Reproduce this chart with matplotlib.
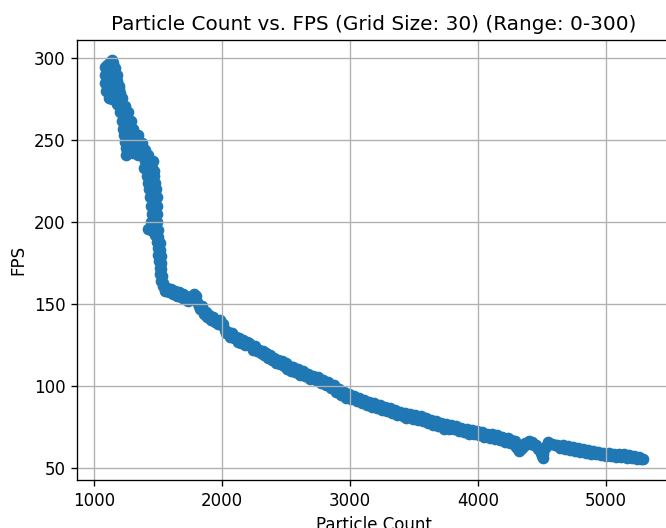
from matplotlib import pyplot as plt

graphName = "Particle Count vs. FPS (Grid Size: 30) (Range: 0-300)"

# readings taken along the band, from the top-left cluster down to the tail
particleCount = [
    # top cluster
    1120, 1135, 1150,
    1085, 1100, 1115, 1130, 1150, 1160,
    1084, 1100, 1115, 1130, 1145, 1160, 1175,
    1085, 1100, 1120, 1140, 1160, 1180, 1190,
    1092, 1110, 1130, 1150, 1170, 1190, 1205,
    1112, 1140, 1165, 1190, 1215,
    1175, 1195, 1215, 1240,
    1200, 1220, 1245, 1266,
    1215, 1235, 1260, 1285,
    1228, 1250, 1275, 1300,
    1235, 1260, 1290, 1320, 1340,
    1242, 1270, 1300, 1330, 1355, 1370,
    1250, 1280, 1320, 1350, 1380, 1400,
    1245, 1260, 1300, 1340, 1370, 1400, 1420,
    1395, 1420, 1445, 1462,
    # steep drop
    1390, 1420, 1450, 1470,
    1410, 1440, 1468,
    1420, 1450, 1478,
    1430, 1458, 1485,
    1435, 1462, 1488,
    1440, 1465, 1490,
    1455, 1475, 1490,
    1440, 1465, 1490,
    1420, 1440, 1478, 1495,
    1475, 1500,
    1490, 1510,
    1498, 1512,
    1502, 1518,
    1508, 1522,
    1510, 1525,
    1515, 1530,
    1518, 1535,
    # knee
    1540, 1555, 1570, 1585, 1600, 1615, 1630, 1645, 1660, 1675,
    1690, 1705, 1720, 1735, 1750, 1765, 1780, 1795, 1800, 1815,
    1830, 1840, 1855, 1870, 1880, 1895, 1910, 1925, 1940, 1955,
    1970, 1985, 2000, 2010, 2020, 2030, 2045, 2060, 2075, 2090,
    2105, 2120, 2135, 2150, 2165, 2180, 2195, 2210, 2225, 2240,
    2255, 2270, 2285, 2300, 2315, 2330, 2345, 2360, 2375, 2390,
    2405, 2420, 2435, 2450, 2465, 2480, 2495, 2510, 2525, 2540,
    # long decline
    2555, 2570, 2590, 2610, 2630, 2650, 2670, 2690, 2710, 2730,
    2750, 2770, 2790, 2810, 2830, 2850, 2870, 2890, 2910, 2930,
    2950, 2970, 2990, 3010, 3030, 3050, 3070, 3090, 3110, 3130,
    3150, 3170, 3190, 3210, 3230, 3250, 3270, 3290, 3310, 3330,
    3350, 3370, 3390, 3410, 3430, 3440, 3450, 3470, 3490, 3510,
    3530, 3550, 3570, 3590, 3610, 3630, 3650, 3670, 3690, 3710,
    3730, 3750, 3770, 3790, 3810, 3830, 3850, 3870, 3890, 3910,
    3930, 3950, 3970, 3990, 4010, 4030, 4050, 4070, 4090, 4110,
    4130, 4150, 4170, 4190, 4210, 4230, 4250,
    # tail with the two dips
    4260, 4275, 4290, 4300, 4310, 4320, 4335, 4350, 4365, 4380,
    4395, 4410, 4425, 4440, 4455, 4470, 4485, 4495, 4500, 4505,
    4510, 4520, 4535, 4550, 4565, 4580, 4600, 4620, 4640, 4660,
    4680, 4700, 4720, 4740, 4760, 4780, 4800, 4820, 4840, 4860,
    4880, 4900, 4920, 4940, 4960, 4980, 5000, 5020, 5040, 5060,
    5080, 5100, 5120, 5140, 5160, 5180, 5200, 5220, 5240, 5260,
    5275, 5290,
]

fps = [
    # top cluster
    298, 299, 297,
    295, 296, 294, 295, 293, 294,
    290, 291, 289, 290, 288, 289, 290,
    285, 286, 284, 285, 284, 286, 283,
    280, 281, 279, 280, 279, 281, 279,
    276, 275, 276, 274, 276,
    272, 271, 272, 271,
    267, 268, 266, 267,
    262, 263, 261, 262,
    257, 258, 256, 257,
    253, 252, 253, 252, 253,
    249, 248, 249, 248, 249, 248,
    245, 246, 245, 244, 245, 244,
    241, 242, 242, 241, 241, 240, 241,
    237, 238, 236, 237,
    # steep drop
    233, 232, 233, 231,
    228, 227, 228,
    224, 223, 224,
    220, 219, 220,
    215, 214, 215,
    210, 209, 210,
    205, 204, 205,
    200, 201, 200,
    196, 195, 197, 195,
    192, 191,
    188, 187,
    184, 183,
    180, 179,
    176, 175,
    172, 171,
    168, 167,
    164, 163,
    # knee
    161, 158, 160, 157, 159, 156, 158, 155, 157, 154,
    156, 153, 155, 152, 154, 153, 156, 155, 151, 149,
    147, 149, 144, 145, 142, 143, 140, 142, 139, 140,
    138, 140, 137, 138, 134, 132, 133, 130, 132, 129,
    130, 127, 129, 126, 128, 125, 127, 126, 124, 122,
    124, 121, 122, 120, 121, 119, 120, 117, 119, 116,
    117, 114, 116, 113, 115, 112, 114, 110, 112, 109,
    # long decline
    111.2, 108.3, 110.2, 106.8, 108.7, 105.8, 107.2, 104.3, 106.2, 103.3,
    105.2, 101.8, 103.2, 100.3, 102.2, 98.8, 100.2, 96.3, 97.7, 94.3,
    96.2, 92.8, 94.7, 91.8, 93.7, 90.8, 92.2, 89.3, 91.2, 88.3,
    90.2, 87.3, 89.2, 86.3, 88.2, 85.3, 87.2, 84.3, 86.2, 83.3,
    85.2, 82.3, 84.2, 81.3, 83.2, 80.0, 81.0, 82.7, 79.8, 82.2,
    79.3, 81.2, 78.3, 80.2, 77.3, 79.2, 76.3, 78.2, 75.3, 77.2,
    73.8, 76.7, 73.8, 75.7, 73.3, 75.2, 72.3, 74.2, 71.8, 73.7,
    70.8, 73.2, 70.3, 72.2, 69.8, 71.7, 68.8, 70.7, 67.8, 70.2,
    67.3, 69.7, 66.8, 68.7, 65.8, 68.2, 64.8,
    # tail with the two dips
    67, 65.5, 66, 62.5, 61.5, 60, 61.5, 62.5, 65, 64.5,
    66.5, 64.5, 65.5, 63.5, 63.5, 61.5, 61, 59, 57, 56,
    58, 62, 64, 65.5, 64.5, 64.5, 63.5, 64, 62, 63.5,
    61.5, 63, 61, 62.3, 60.3, 61.8, 59.8, 61.2, 59.2, 60.5,
    58.5, 60, 58, 59.5, 57.5, 59, 57, 58.8, 56.8, 58.5,
    56.5, 58.2, 56.2, 58, 56, 57.5, 55.8, 57.2, 55.5, 56.5,
    55, 55.5,
]


def plot(particleCount, fps):
    fig = plt.figure(figsize=(666 / 120, 528 / 120), dpi=120)
    # the reference is a crop of a larger figure: right spine falls just off the edge
    ax = fig.add_axes([77 / 666, 48 / 528, 593 / 666, 440 / 528])
    ax.scatter(particleCount, fps, color="#1f77b4")
    ax.set_title(graphName)
    ax.set_xlabel("Particle Count")
    ax.set_ylabel("FPS")
    ax.set_xlim(865, 5500)
    ax.set_ylim(42.4, 311.2)
    ax.grid(True)
    fig.savefig("out.png", dpi=120)


if __name__ == "__main__":
    plot(particleCount, fps)
